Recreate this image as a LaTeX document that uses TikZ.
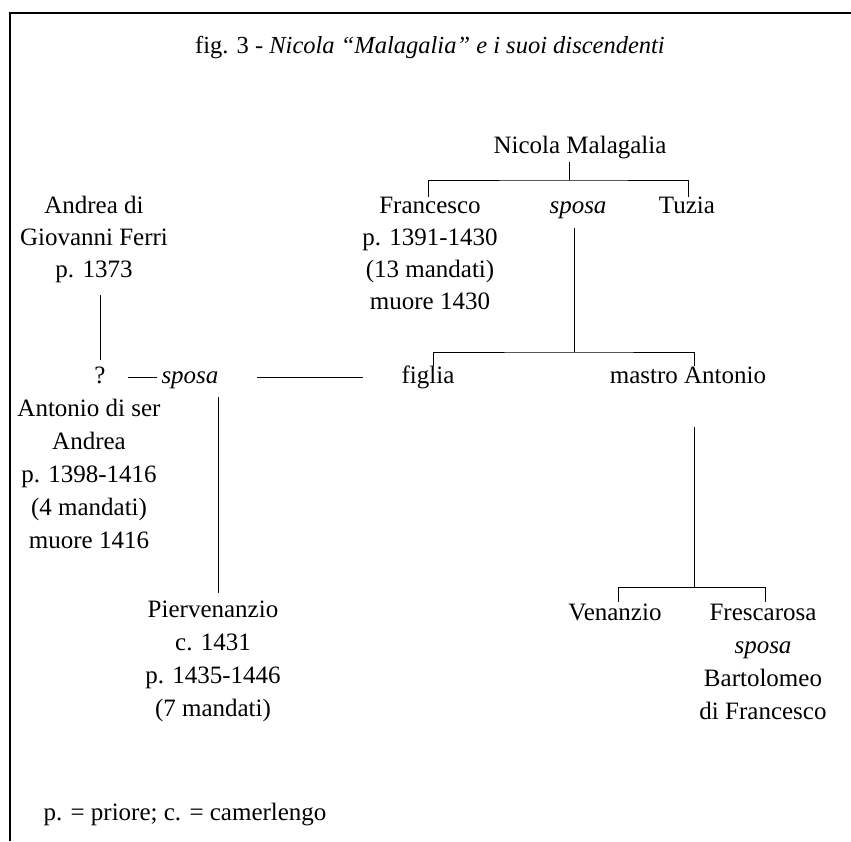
\documentclass[tikz,border=0pt]{standalone}
\usepackage{fontspec}
\setmainfont{Liberation Serif}
\begin{document}
\begin{tikzpicture}[x=1pt,y=-1pt,line width=1pt,
  txt/.style={font=\fontsize{25}{32}\selectfont, inner sep=0pt, anchor=base, align=center},
  txtb/.style={font=\fontsize{25}{33}\selectfont, inner sep=0pt, anchor=base, align=center},
  ital/.style={txt, font=\fontsize{25}{32}\selectfont\itshape},
  link/.style={draw, line width=1pt},
  frame/.style={draw, line width=2pt}]
\useasboundingbox (0,0) rectangle (851,841);
% frame
\coordinate (fbl) at (10,841);
\coordinate (ftl) at (10,13);
\coordinate (ftr) at (851,13);
\draw[frame] (fbl) -- (ftl) -- (ftr);
% title
\node[font=\fontsize{24.5}{30}\selectfont, inner sep=0pt, anchor=base] (title) at (430,53)
  {fig. 3 - \textit{Nicola “Malagalia” e i suoi discendenti}};
% people (multi-line nodes are placed by the baseline of their last line)
\node[txt] (nicola) at (580,153) {Nicola Malagalia};
\node[txt] (francesco) at (430,309) {Francesco\\p. 1391-1430\\(13 mandati)\\muore 1430};
\node[ital] (sposaA) at (578,213) {sposa};
\node[txt] (tuzia) at (687,213) {Tuzia};
\node[txt] (andrea) at (94,277) {Andrea di\\Giovanni Ferri\\p. 1373};
\node[txt] (q) at (100,383) {?};
\node[ital] (sposaB) at (190,383) {sposa};
\node[txt] (figlia) at (428,383) {figlia};
\node[txt] (mastro) at (688,383) {mastro Antonio};
\node[txtb] (antonio) at (89,548) {Antonio di ser\\Andrea\\p. 1398-1416\\(4 mandati)\\muore 1416};
\node[txtb] (pier) at (213,716) {Piervenanzio\\c. 1431\\p. 1435-1446\\(7 mandati)};
\node[txt] (venanzio) at (615,620) {Venanzio};
\node[txtb] (fresca) at (763,719) {Frescarosa\\\textit{sposa}\\Bartolomeo\\di Francesco};
\node[txt, anchor=base west] (legend) at (43,820) {p. = priore; c. = camerlengo};
% junctions
\coordinate (n0) at (569,162);
\coordinate (n1) at (569,180);
\coordinate (fA) at (428,197);
\coordinate (tA) at (688,197);
\coordinate (s0) at (574,228);
\coordinate (s1) at (574,352);
\coordinate (gA) at (433,366);
\coordinate (mA) at (694,366);
\coordinate (m0) at (694,427);
\coordinate (m1) at (694,587);
\coordinate (vA) at (618,602);
\coordinate (rA) at (765,602);
\coordinate (a0) at (100,295);
\coordinate (a1) at (100,360);
\coordinate (q0) at (128,377);
\coordinate (q1) at (157,377);
\coordinate (p0) at (257,377);
\coordinate (p1) at (363,377);
\coordinate (b0) at (218,397);
\coordinate (b1) at (218,593);
% connectors
\draw[link] (n0) -- (n1);
\draw[link] (fA) |- (n1) -| (tA);
\draw[link] (s0) -- (s1);
\draw[link] (gA) |- (s1) -| (mA);
\draw[link] (m0) -- (m1);
\draw[link] (vA) |- (m1) -| (rA);
\draw[link] (a0) -- (a1);
\draw[link] (q0) -- (q1);
\draw[link] (p0) -- (p1);
\draw[link] (b0) -- (b1);
\end{tikzpicture}
\end{document}
